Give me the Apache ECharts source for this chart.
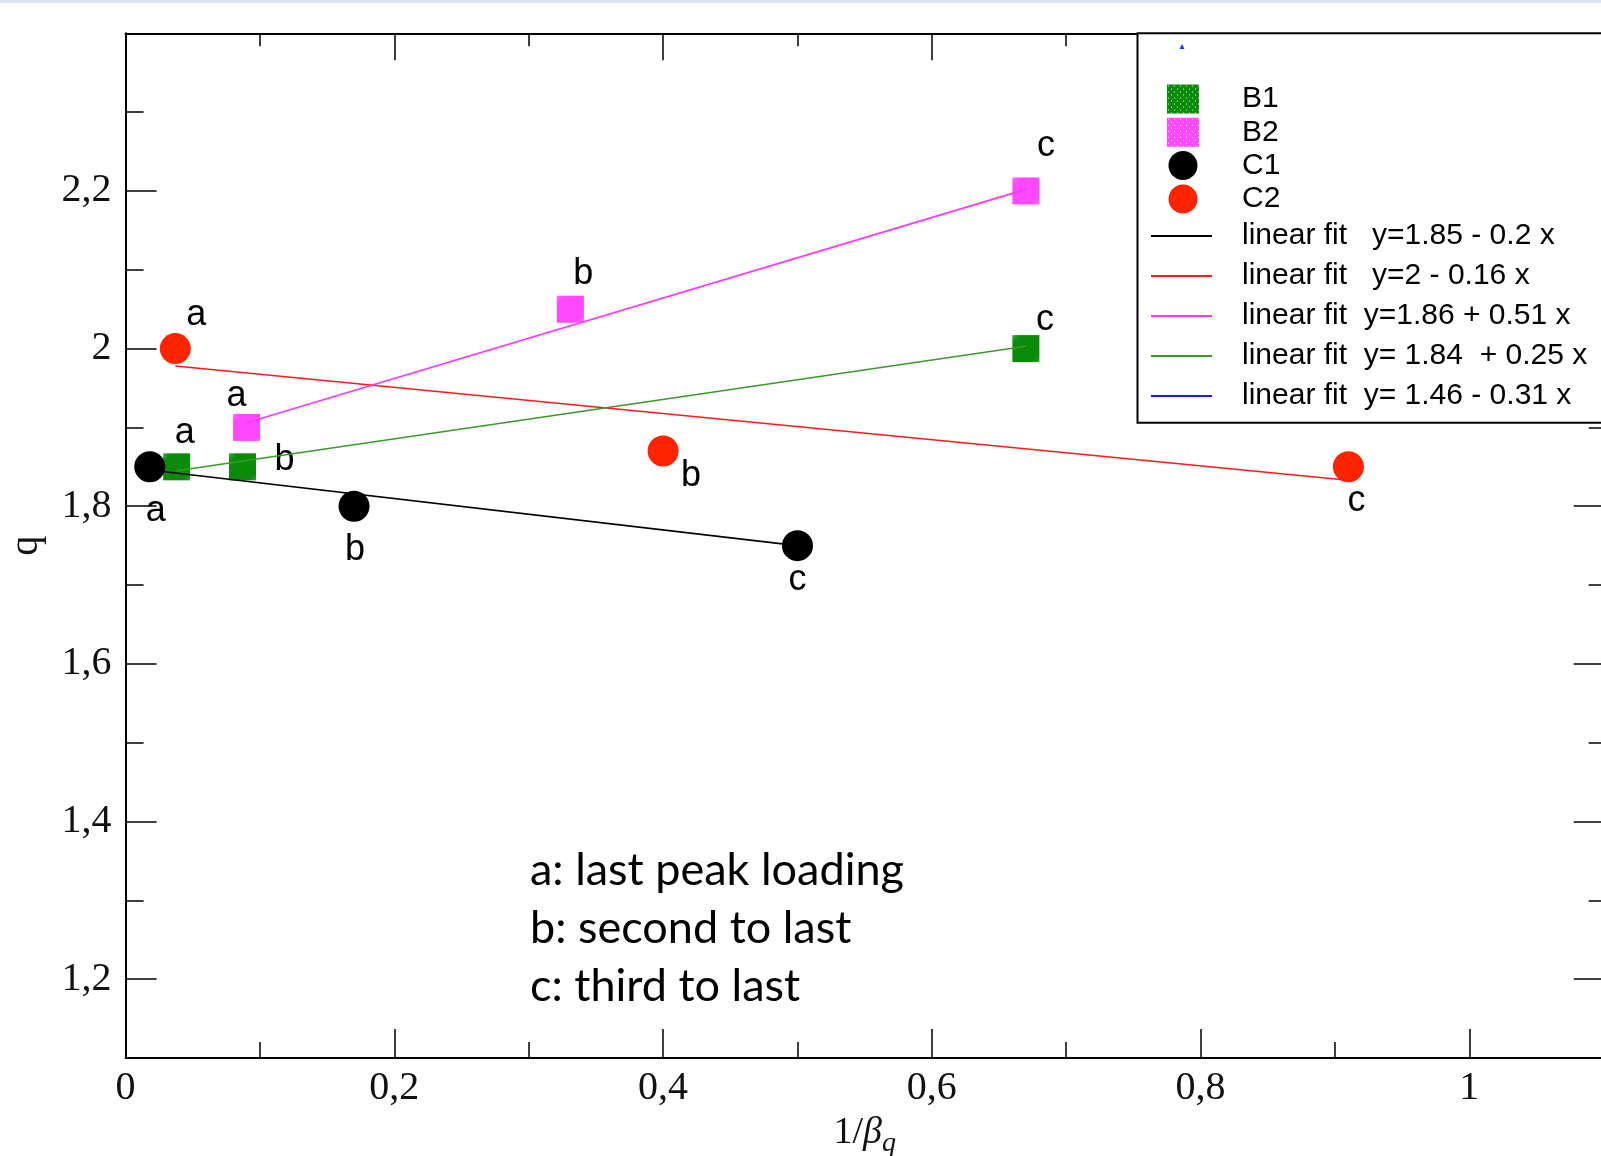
<!DOCTYPE html>
<html>
<head>
<meta charset="utf-8">
<script src="https://cdn.jsdelivr.net/npm/echarts@6/dist/echarts.min.js"></script>
<style>
html,body{margin:0;padding:0;background:#fff;}
#chart{width:1601px;height:1156px;}
</style>
</head>
<body>
<div id="chart"></div>
<script>
// ---------- data ----------
const xTicksMajor = [0, 0.2, 0.4, 0.6, 0.8, 1];
const xTicksMinor = [0.1, 0.3, 0.5, 0.7, 0.9];
const yTicksMajor = [1.2, 1.4, 1.6, 1.8, 2.0, 2.2];
const yTicksMinor = [1.3, 1.5, 1.7, 1.9, 2.1, 2.3];

const pointLetters = ['a', 'b', 'c'];

const b1X = [0.038, 0.087, 0.670];
const b1Y = [1.85, 1.85, 2.00];
const b2X = [0.090, 0.331, 0.670];
const b2Y = [1.90, 2.05, 2.20];
const c1X = [0.018, 0.170, 0.500];
const c1Y = [1.85, 1.80, 1.75];
const c2X = [0.037, 0.400, 0.910];
const c2Y = [2.00, 1.87, 1.85];

const fitC1X = [0.018, 0.500];
const fitC1Y = [1.846, 1.750];
const fitC2X = [0.037, 0.910];
const fitC2Y = [1.978, 1.833];
const fitB2X = [0.090, 0.670];
const fitB2Y = [1.906, 2.202];
const fitB1X = [0.038, 0.670];
const fitB1Y = [1.845, 2.003];
const fitBlueX = [];
const fitBlueY = [];

const fitNames = [
  'linear fit   y=1.85 - 0.2 x',
  'linear fit   y=2 - 0.16 x',
  'linear fit  y=1.86 + 0.51 x',
  'linear fit  y= 1.84  + 0.25 x',
  'linear fit  y= 1.46 - 0.31 x'
];
const noteLines = ['a: last peak loading', 'b: second to last', 'c: third to last'];

// ---------- styles (label offsets in px) ----------
const b1LabelOffsets = [[8, -34], [42, -7], [19, -29]];
const b2LabelOffsets = [[-10, -31], [13, -35], [20, -45]];
const c1LabelOffsets = [[6, 44], [1, 44], [0, 34]];
const c2LabelOffsets = [[21, -34], [28, 25], [8, 34]];

function dotPattern(base) {
  const c = document.createElement('canvas');
  c.width = 6; c.height = 6;
  const g = c.getContext('2d');
  g.fillStyle = base; g.fillRect(0, 0, 6, 6);
  g.fillStyle = 'rgba(255,255,255,0.85)';
  g.fillRect(1, 1, 1, 1);
  g.fillRect(4, 4, 1, 1);
  return { image: c, repeat: 'repeat' };
}

function pts(xs, ys, offs) {
  return xs.map((x, i) => ({ value: [x, ys[i]], label: { offset: offs[i] } }));
}
function linePts(xs, ys) {
  return xs.map((x, i) => [x, ys[i]]);
}
const fmt = v => String(+(+v).toFixed(1)).replace('.', ',');

const serif = 'Liberation Serif';
const sans = 'Liberation Sans';

const pointLabel = {
  show: true,
  position: 'inside',
  formatter: p => pointLetters[p.dataIndex],
  color: '#000',
  fontFamily: sans,
  fontSize: 36
};

function scatter(name, xs, ys, offs, symbol, size, color) {
  return {
    name, type: 'scatter', xAxisIndex: 0, yAxisIndex: 0,
    symbol, symbolSize: size,
    itemStyle: { color, opacity: 1 },
    label: pointLabel,
    data: pts(xs, ys, offs),
    z: 3
  };
}
function fit(name, xs, ys, color) {
  return {
    name, type: 'line', xAxisIndex: 0, yAxisIndex: 0,
    symbol: 'none', showSymbol: false,
    lineStyle: { color, width: 1.6 },
    itemStyle: { color },
    data: linePts(xs, ys),
    z: 4
  };
}

const chart = echarts.init(document.getElementById('chart'), null, { renderer: 'canvas' });

const axisLine = { show: true, onZero: false, lineStyle: { color: '#000', width: 2 } };
const noLine = { show: false, onZero: false };

function xAx(position, ticks, len, labels, extra) {
  return Object.assign({
    type: 'value', position, min: 0, max: 1.1,
    axisLine: labels !== null || position === 'top' ? axisLine : noLine,
    axisTick: { show: true, inside: true, length: len, customValues: ticks, lineStyle: { color: '#000', width: 1.5 } },
    axisLabel: labels ? {
      show: true, customValues: labels, formatter: fmt, margin: 10,
      fontFamily: serif, fontSize: 40, color: '#111'
    } : { show: false },
    splitLine: { show: false }
  }, extra || {});
}
function yAx(position, ticks, len, labels, extra) {
  return Object.assign({
    type: 'value', position, min: 1.1, max: 2.4,
    axisLine: labels !== null || position === 'right' ? axisLine : noLine,
    axisTick: { show: true, inside: true, length: len, customValues: ticks, lineStyle: { color: '#000', width: 1.5 } },
    axisLabel: labels ? {
      show: true, customValues: labels, formatter: fmt, margin: 14,
      fontFamily: serif, fontSize: 40, color: '#111'
    } : { show: false },
    splitLine: { show: false }
  }, extra || {});
}

const option = {
  animation: false,
  backgroundColor: '#fff',
  grid: { left: 125.6, top: 33.3, right: -2.7, bottom: 98, outerBoundsMode: 'none', containLabel: false },
  xAxis: [
    xAx('bottom', xTicksMajor, 29, xTicksMajor, {
      name: '{n|1/}{b|β}{s|q}', nameLocation: 'middle', nameGap: 50,
      nameTextStyle: {
        rich: {
          n: { fontFamily: serif, fontSize: 38, color: '#111' },
          b: { fontFamily: serif, fontSize: 38, fontStyle: 'italic', color: '#111' },
          s: { fontFamily: serif, fontSize: 28, fontStyle: 'italic', color: '#111', padding: [22, 0, 0, 0] }
        }
      }
    }),
    xAx('bottom', xTicksMinor, 16, null),
    xAx('top', xTicksMajor, 27, null),
    xAx('top', xTicksMinor, 13, null)
  ],
  yAxis: [
    yAx('left', yTicksMajor, 31, yTicksMajor, {
      name: 'q', nameLocation: 'middle', nameRotate: 90, nameGap: 79,
      nameTextStyle: { fontFamily: serif, fontSize: 40, color: '#111' }
    }),
    yAx('left', yTicksMinor, 18, null),
    yAx('right', yTicksMajor, 30, null),
    yAx('right', yTicksMinor, 15, null)
  ],
  legend: [
    {
      data: ['B1', 'B2', 'C1', 'C2'],
      orient: 'vertical', left: 1162, top: 79,
      itemWidth: 32, itemHeight: 29, itemGap: 3.3,
      selectedMode: false, z: 6,
      textStyle: { fontFamily: sans, fontSize: 30, color: '#000', lineHeight: 30, padding: [0, 0, 0, 38] }
    },
    {
      data: fitNames.map(n => ({ name: n, icon: 'rect' })),
      orient: 'vertical', left: 1146, top: 216,
      itemWidth: 61, itemHeight: 2, itemGap: 10,
      selectedMode: false, z: 6,
      textStyle: { fontFamily: sans, fontSize: 30, color: '#000', lineHeight: 30, padding: [0, 0, 0, 25] }
    }
  ],
  graphic: [
    { type: 'rect', left: 0, top: 0, shape: { width: 1601, height: 3 }, style: { fill: '#dbe4ee' }, silent: true },
    { type: 'rect', shape: { x: 1137.5, y: 33.3, width: 520, height: 389.5 }, style: { fill: '#fff', stroke: '#000', lineWidth: 2 }, z: 5, silent: true },
    { type: 'polygon', shape: { points: [[1182, 44], [1179.5, 49], [1184.5, 49]] }, style: { fill: '#1a3cff' }, z: 6, silent: true },
    { type: 'text', x: 530, y: 870, style: { text: noteLines[0], font: '45px Lato', fill: '#000', verticalAlign: 'middle' } },
    { type: 'text', x: 530, y: 928, style: { text: noteLines[1], font: '45px Lato', fill: '#000', verticalAlign: 'middle' } },
    { type: 'text', x: 530, y: 986, style: { text: noteLines[2], font: '45px Lato', fill: '#000', verticalAlign: 'middle' } }
  ],
  series: [
    scatter('B1', b1X, b1Y, b1LabelOffsets, 'rect', 27, dotPattern('#0a8c0a')),
    scatter('B2', b2X, b2Y, b2LabelOffsets, 'rect', 27, dotPattern('#ff48ff')),
    scatter('C1', c1X, c1Y, c1LabelOffsets, 'circle', 31, '#000'),
    scatter('C2', c2X, c2Y, c2LabelOffsets, 'circle', 31, '#ff2400'),
    fit(fitNames[0], fitC1X, fitC1Y, '#000'),
    fit(fitNames[1], fitC2X, fitC2Y, '#ff1a1a'),
    fit(fitNames[2], fitB2X, fitB2Y, '#ff33ff'),
    fit(fitNames[3], fitB1X, fitB1Y, '#3a9a2a'),
    fit(fitNames[4], fitBlueX, fitBlueY, '#1a1aff')
  ]
};
chart.setOption(option);
</script>
</body>
</html>
